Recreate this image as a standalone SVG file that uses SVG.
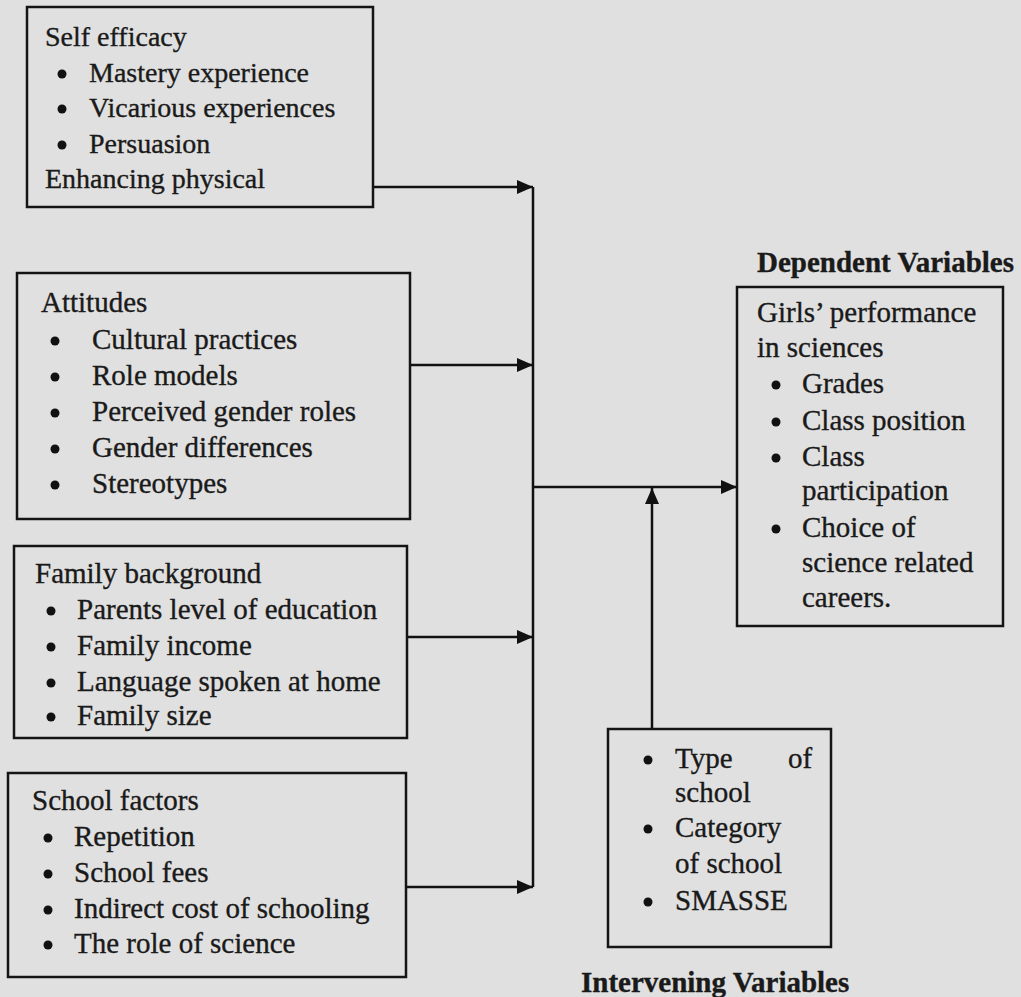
<svg xmlns="http://www.w3.org/2000/svg" width="1021" height="997" viewBox="0 0 1021 997">
<style>
.box{fill:none;stroke:#141414;stroke-width:2.5}
.t{font-family:"Liberation Serif","Times New Roman",serif;font-size:29px;fill:#1a1a1a;stroke:#1a1a1a;stroke-width:0.35}
.t28{font-size:28px}
.b{font-weight:bold}
.dot{fill:#111}
.con{fill:none;stroke:#111;stroke-width:2.5}
</style>
<defs>
<marker id="arr" markerUnits="userSpaceOnUse" markerWidth="18" markerHeight="16" refX="16" refY="7" orient="auto">
<path d="M0,0 L16,7 L0,14 z" fill="#111"/>
</marker>
</defs>
<rect width="1021" height="997" fill="#e0e0e0"/>

<g id="connectors">
<path class="con" d="M373,187 H533" marker-end="url(#arr)"/>
<path class="con" d="M410,365 H533" marker-end="url(#arr)"/>
<path class="con" d="M407,637 H533" marker-end="url(#arr)"/>
<path class="con" d="M406,887 H533" marker-end="url(#arr)"/>
<path class="con" d="M533,187 V887"/>
<path class="con" d="M533,487 H737" marker-end="url(#arr)"/>
<path class="con" d="M652,729 V488" marker-end="url(#arr)"/>
</g>

<g id="self-efficacy">
<rect class="box" x="27" y="7" width="346" height="200"/>
<text class="t t28" x="45" y="46">Self efficacy</text>
<circle class="dot" cx="62" cy="74" r="4.5"/><text class="t t28" x="89" y="82">Mastery experience</text>
<circle class="dot" cx="62" cy="109" r="4.5"/><text class="t t28" x="89" y="117">Vicarious experiences</text>
<circle class="dot" cx="62" cy="145" r="4.5"/><text class="t t28" x="89" y="153">Persuasion</text>
<text class="t t28" x="45" y="188">Enhancing physical</text>
</g>

<g id="attitudes">
<rect class="box" x="17" y="273" width="393" height="246"/>
<text class="t" x="41" y="312">Attitudes</text>
<circle class="dot" cx="55" cy="341" r="4.5"/><text class="t" x="92" y="349">Cultural practices</text>
<circle class="dot" cx="55" cy="377" r="4.5"/><text class="t" x="92" y="385">Role models</text>
<circle class="dot" cx="55" cy="413" r="4.5"/><text class="t" x="92" y="421">Perceived gender roles</text>
<circle class="dot" cx="55" cy="449" r="4.5"/><text class="t" x="92" y="457">Gender differences</text>
<circle class="dot" cx="55" cy="485" r="4.5"/><text class="t" x="92" y="493">Stereotypes</text>
</g>

<g id="family-background">
<rect class="box" x="14" y="546" width="393" height="192"/>
<text class="t" x="35" y="583">Family background</text>
<circle class="dot" cx="51" cy="611" r="4.5"/><text class="t" x="77" y="619">Parents level of education</text>
<circle class="dot" cx="51" cy="647" r="4.5"/><text class="t" x="77" y="655">Family income</text>
<circle class="dot" cx="51" cy="683" r="4.5"/><text class="t" x="77" y="691">Language spoken at home</text>
<circle class="dot" cx="51" cy="717" r="4.5"/><text class="t" x="77" y="725">Family size</text>
</g>

<g id="school-factors">
<rect class="box" x="8" y="773" width="398" height="204"/>
<text class="t" x="32" y="810">School factors</text>
<circle class="dot" cx="48" cy="838" r="4.5"/><text class="t" x="74" y="846">Repetition</text>
<circle class="dot" cx="48" cy="874" r="4.5"/><text class="t" x="74" y="882">School fees</text>
<circle class="dot" cx="48" cy="910" r="4.5"/><text class="t" x="74" y="918">Indirect cost of schooling</text>
<circle class="dot" cx="48" cy="945" r="4.5"/><text class="t" x="74" y="953">The role of science</text>
</g>

<g id="dependent">
<text class="t b" x="757" y="272">Dependent Variables</text>
<rect class="box" x="737" y="287" width="266" height="339"/>
<text class="t" x="757" y="322">Girls’ performance</text>
<text class="t" x="757" y="357">in sciences</text>
<circle class="dot" cx="776" cy="385" r="4.5"/><text class="t" x="802" y="393">Grades</text>
<circle class="dot" cx="776" cy="422" r="4.5"/><text class="t" x="802" y="430">Class position</text>
<circle class="dot" cx="776" cy="458" r="4.5"/><text class="t" x="802" y="466">Class</text>
<text class="t" x="802" y="500">participation</text>
<circle class="dot" cx="776" cy="529" r="4.5"/><text class="t" x="802" y="537">Choice of</text>
<text class="t" x="802" y="572">science related</text>
<text class="t" x="802" y="607">careers.</text>
</g>

<g id="intervening">
<rect class="box" x="608" y="729" width="223" height="218"/>
<circle class="dot" cx="648" cy="760" r="4.5"/>
<text class="t" y="768"><tspan x="675">Type</tspan><tspan x="788">of</tspan></text>
<text class="t" x="675" y="802">school</text>
<circle class="dot" cx="648" cy="829" r="4.5"/><text class="t" x="675" y="837">Category</text>
<text class="t" x="675" y="873">of school</text>
<circle class="dot" cx="648" cy="902" r="4.5"/><text class="t" x="675" y="910">SMASSE</text>
<text class="t b" x="581" y="992">Intervening Variables</text>
</g>
</svg>
